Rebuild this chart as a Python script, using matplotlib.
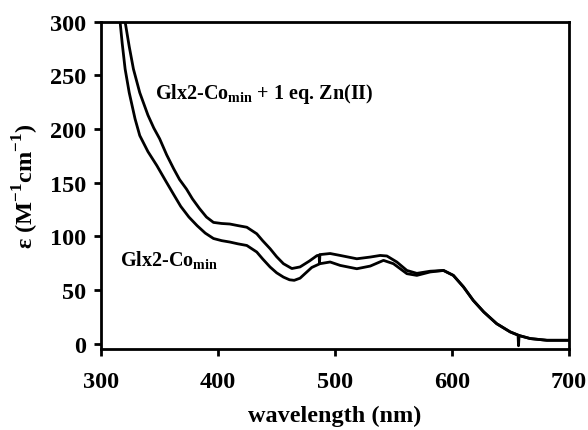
import matplotlib
matplotlib.use("Agg")
import matplotlib.pyplot as plt

# Glx2-Co_min + 1 eq. Zn(II) (upper trace)
wl_zn = [318, 320.5, 324, 327.6, 333, 340, 345, 350, 356, 362, 367, 373,
         378, 384, 390, 396, 403, 410, 417, 424.5, 433, 438, 444.4, 450,
         455.8, 463, 470, 478, 484.4, 486.3, 486.6, 487, 495.7, 504.3, 518.5,
         530, 538.5, 544.2, 552.7, 561.3, 569.8, 581.2, 592.6, 601, 609.7,
         618, 627, 638, 649.6, 656.3, 656.7, 657.2, 666.7, 681, 700]
eps_zn = [330, 300, 277, 256, 234, 213, 201, 191, 176, 163, 153, 144,
          135, 126, 118, 113, 112, 111.5, 110, 108.5, 102.4, 96, 88.5, 81,
          74.5, 70, 71.5, 77, 82, 82.5, 75, 83, 84, 82.2, 79.1,
          80.7, 82.2, 81.7, 76.1, 68.2, 65.5, 67.5, 68.2, 63.6, 52.8,
          40.3, 29.5, 18.6, 10.9, 8, -2, 7.5, 4.7, 3.1, 3.1]

# Glx2-Co_min (lower trace)
wl_co = [314.5, 316.2, 318, 320.5, 324, 329, 333, 340, 347.6, 355, 362,
         368, 375, 382, 389, 396, 403, 410, 417, 424.5, 433, 438, 444.4,
         450, 455.8, 461, 465, 470, 475, 480, 487, 495.7, 504.3, 518.5, 530,
         541.3, 549.8, 561.3, 569.8, 581.2, 592.6, 601, 609.7, 618, 627, 638,
         649.6, 656.7, 666.7, 681, 700]
eps_co = [330, 300, 280, 256, 234, 209.5, 194, 179, 166, 152, 139,
          128, 118, 110, 103, 98, 96, 94.7, 93, 91.5, 85.4, 79, 71.4,
          66, 62, 59.5, 59, 61, 66, 71, 74.5, 76.1, 72.9, 69.8, 72.3,
          77.6, 74.5, 65.2, 63.6, 66.8, 68.2, 63.6, 52.8, 40.3, 29.5, 18.6,
          10.9, 7.7, 4.7, 3.1, 3.1]

x_ticks = [300, 400, 500, 600, 700]
y_ticks = [0, 50, 100, 150, 200, 250, 300]

plt.rcParams["font.family"] = ["Liberation Serif", "DejaVu Serif"]
plt.rcParams["font.weight"] = "bold"
plt.rcParams["mathtext.fontset"] = "custom"
plt.rcParams["mathtext.rm"] = "Liberation Serif:bold"
plt.rcParams["mathtext.bf"] = "Liberation Serif:bold"

fig = plt.figure(figsize=(5.88, 4.31), dpi=100)
ax = fig.add_axes([0.172, 0.188, 0.796, 0.759])

ax.plot(wl_zn, eps_zn, color="black", lw=2.0)
ax.plot(wl_co, eps_co, color="black", lw=2.0)

ax.set_xlim(300, 700)
ax.set_ylim(-5, 300)
ax.set_xticks(x_ticks)
ax.set_yticks(y_ticks)
ax.tick_params(direction="out", length=5, width=2, labelsize=17.5, pad=6)
for lab in ax.get_xticklabels() + ax.get_yticklabels():
    lab.set_fontweight("bold")
ax.tick_params(axis="x", pad=11)
for s in ax.spines.values():
    s.set_linewidth(2)

ax.set_xlabel("wavelength (nm)", fontsize=17.5, fontweight="bold", labelpad=9)
ax.set_ylabel(r"ε (M$^{\mathbf{-1}}$cm$^{\mathbf{-1}}$)", fontsize=17.5,
              fontweight="bold", labelpad=6)

ax.text(346, 234, r"Glx2-Co$_{\mathbf{min}}$ + 1 eq. Zn(II)", fontsize=14.5,
        fontweight="bold", va="center", ha="left")
ax.text(316, 78, r"Glx2-Co$_{\mathbf{min}}$", fontsize=14.5,
        fontweight="bold", va="center", ha="left")

fig.savefig("out.png", dpi=100)
plt.close(fig)
